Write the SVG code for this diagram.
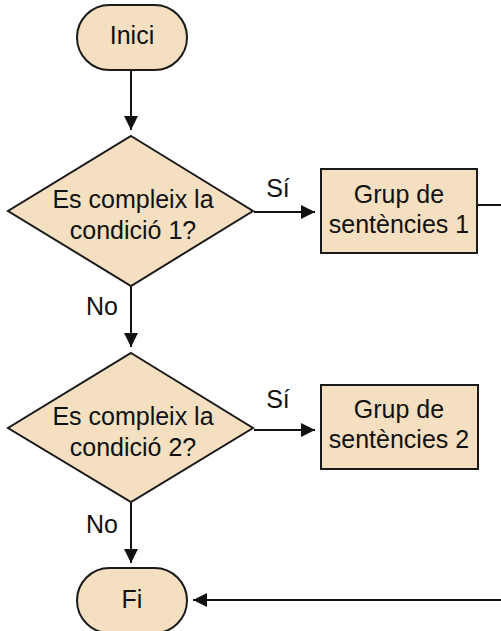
<svg xmlns="http://www.w3.org/2000/svg" width="501" height="631" viewBox="0 0 501 631">
  <style>
    .shape { fill: #f5dfc1; stroke: #1a1a1a; stroke-width: 2; }
    .label { font-family: "Liberation Sans", Arial, sans-serif; font-size: 25px; fill: #111; text-anchor: middle; }
    .edge { fill: none; stroke: #111; stroke-width: 2; }
  </style>
  <defs>
    <marker id="arrow" viewBox="0 0 14 14" refX="14" refY="7" markerWidth="14" markerHeight="14" markerUnits="userSpaceOnUse" orient="auto">
      <path d="M0,0 L14,7 L0,14 Z" fill="#111"/>
    </marker>
  </defs>

  <g id="connectors">
    <line class="edge" x1="131" y1="70" x2="131" y2="130" marker-end="url(#arrow)"/>
    <line class="edge" x1="254" y1="212" x2="315" y2="212" marker-end="url(#arrow)"/>
    <line class="edge" x1="477" y1="205" x2="501" y2="205"/>
    <line class="edge" x1="131" y1="286" x2="131" y2="347" marker-end="url(#arrow)"/>
    <line class="edge" x1="254" y1="430" x2="315" y2="430" marker-end="url(#arrow)"/>
    <line class="edge" x1="131" y1="502" x2="131" y2="563" marker-end="url(#arrow)"/>
    <line class="edge" x1="501" y1="600" x2="193" y2="600" marker-end="url(#arrow)"/>
    <text class="label" x="278" y="197">Sí</text>
    <text class="label" x="102" y="315">No</text>
    <text class="label" x="278" y="408">Sí</text>
    <text class="label" x="102" y="533">No</text>
  </g>

  <g id="start">
    <rect class="shape" x="77" y="5" width="110" height="65" rx="32.5"/>
    <text class="label" x="132" y="44">Inici</text>
  </g>

  <g id="decision1">
    <polygon class="shape" points="131,136 253,211 131,286 8,211"/>
    <text class="label" x="133" y="208">Es compleix la</text>
    <text class="label" x="133" y="239">condició 1?</text>
  </g>

  <g id="action1">
    <rect class="shape" x="321" y="169" width="156" height="84"/>
    <text class="label" x="399" y="203">Grup de</text>
    <text class="label" x="399" y="233">sentències 1</text>
  </g>

  <g id="decision2">
    <polygon class="shape" points="131,353 253,428 131,502 8,428"/>
    <text class="label" x="133" y="425">Es compleix la</text>
    <text class="label" x="133" y="456">condició 2?</text>
  </g>

  <g id="action2">
    <rect class="shape" x="321" y="385" width="157" height="84"/>
    <text class="label" x="399" y="418">Grup de</text>
    <text class="label" x="399" y="448">sentències 2</text>
  </g>

  <g id="end">
    <rect class="shape" x="77" y="568" width="110" height="65" rx="32.5"/>
    <text class="label" x="132" y="608">Fi</text>
  </g>
</svg>
